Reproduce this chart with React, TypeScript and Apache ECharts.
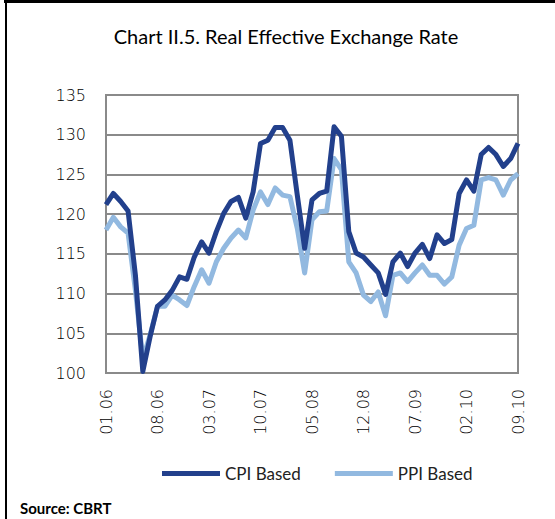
import React, { useEffect, useRef } from "react";
import * as echarts from "echarts";

const months: string[] = [];
for (let y = 6; y <= 10; y++) {
  for (let m = 1; m <= 12; m++) {
    if (y === 10 && m > 9) break;
    months.push(String(m).padStart(2, "0") + "." + String(y).padStart(2, "0"));
  }
}

const cpiBased = [
  121.2, 122.6, 121.6, 120.4, 112.3, 100.2, 104.6, 108.4, 109.2, 110.4,
  112.1, 111.8, 114.6, 116.5, 115.1, 117.8, 120.1, 121.6, 122.1, 119.5,
  122.8, 128.9, 129.3, 130.9, 130.9, 129.3, 122.4, 115.7, 121.8, 122.6,
  122.9, 131.0, 129.8, 117.8, 115.1, 114.6, 113.6, 112.6, 109.9, 114.0,
  115.1, 113.4, 115.1, 116.2, 114.4, 117.4, 116.3, 116.8, 122.6, 124.3,
  122.9, 127.5, 128.4, 127.5, 126.0, 127.0, 128.9,
];

const ppiBased = [
  118.0, 119.6, 118.4, 117.6, 110.4, 101.8, 104.8, 108.4, 108.4, 109.8,
  109.2, 108.5, 110.9, 113.0, 111.3, 114.0, 115.7, 117.0, 118.0, 117.0,
  120.5, 122.8, 121.2, 123.3, 122.4, 122.2, 118.2, 112.6, 119.3, 120.3,
  120.4, 127.0, 125.6, 114.0, 112.6, 109.8, 109.0, 110.2, 107.2, 112.3,
  112.6, 111.5, 112.6, 113.6, 112.3, 112.3, 111.2, 112.1, 116.1, 118.2,
  118.6, 124.3, 124.6, 124.3, 122.4, 124.3, 125.1,
];

const seriesNames = ["CPI Based", "PPI Based"];
const titleText = "Chart II.5. Real Effective Exchange Rate";
const sourceText = "Source: CBRT";

const FONT = "Lato, 'DejaVu Sans', sans-serif";
const TICKFONT = "'DejaVu Sans', Lato, sans-serif";

export default function App() {
  const ref = useRef<HTMLDivElement>(null);
  useEffect(() => {
    if (!ref.current) return;
    const chart = echarts.init(ref.current, null, { renderer: "svg" });
    chart.setOption({
      animation: false,
      backgroundColor: "#ffffff",
      title: {
        text: titleText,
        left: 281,
        top: 21,
        textAlign: "center",
        textStyle: { fontFamily: FONT, fontSize: 20, fontWeight: "normal", color: "#000" },
      },
      graphic: [
        { type: "rect", shape: { x: 4, y: 0, width: 551, height: 3 }, style: { fill: "#000" } },
        { type: "rect", shape: { x: 5, y: 0, width: 2, height: 519 }, style: { fill: "#000" } },
        {
          type: "text",
          left: 20,
          top: 500,
          style: { text: sourceText, fontFamily: FONT, fontSize: 15, fontWeight: "bold", fill: "#000" },
        },
      ],
      legend: {
        data: seriesNames,
        top: 460,
        left: 157,
        itemWidth: 58,
        itemHeight: 5,
        itemGap: 34,
        icon: "rect",
        textStyle: { fontFamily: FONT, fontSize: 17, color: "#222" },
      },
      grid: {
        left: 106,
        right: 37,
        top: 95,
        bottom: 146,
        show: true,
        borderColor: "#8a8a8a",
        borderWidth: 2,
      },
      xAxis: {
        type: "category",
        data: months,
        boundaryGap: false,
        axisLine: { show: false },
        axisTick: { show: false },
        axisLabel: {
          interval: 6,
          rotate: 90,
          margin: 16,
          fontFamily: TICKFONT,
          fontWeight: 200,
          fontSize: 16,
          color: "#000",
        },
        splitLine: { show: false },
      },
      yAxis: {
        type: "value",
        min: 100,
        max: 135,
        interval: 5,
        axisLine: { show: true, lineStyle: { color: "#8a8a8a", width: 2 } },
        axisTick: { show: false },
        axisLabel: { margin: 20, fontFamily: TICKFONT, fontWeight: 200, fontSize: 16, color: "#000" },
        splitLine: { show: true, lineStyle: { color: "#8a8a8a", width: 2 } },
      },
      series: [
        {
          name: seriesNames[0],
          type: "line",
          data: cpiBased,
          showSymbol: false,
          symbol: "none",
          lineStyle: { color: "#22408c", width: 5, join: "round" },
          itemStyle: { color: "#22408c" },
        },
        {
          name: seriesNames[1],
          type: "line",
          data: ppiBased,
          showSymbol: false,
          symbol: "none",
          lineStyle: { color: "#92b9e0", width: 5, join: "round" },
          itemStyle: { color: "#92b9e0" },
          z: 1,
        },
      ],
    });
    return () => chart.dispose();
  }, []);
  return <div ref={ref} style={{ width: 555, height: 519, position: "absolute", left: 0, top: 0 }} />;
}
